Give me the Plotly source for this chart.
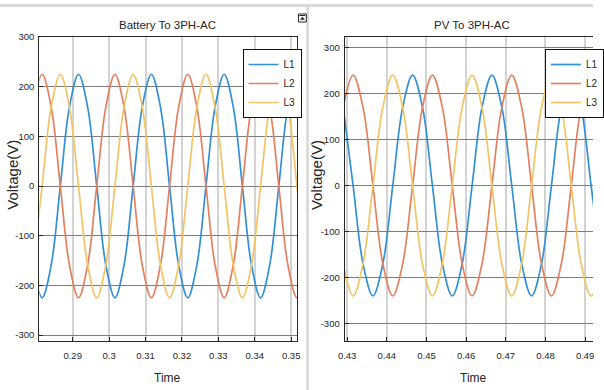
import plotly.graph_objects as go

W, H = 604, 390

# ---------------- data ----------------
t_batt = [0.2791, 0.2816, 0.2841, 0.2866, 0.2891, 0.2916, 0.2941, 0.2966,
          0.2991, 0.3016, 0.3041, 0.3066, 0.3091, 0.3116, 0.3141, 0.3166,
          0.3191, 0.3216, 0.3241, 0.3266, 0.3291, 0.3316, 0.3341, 0.3366,
          0.3391, 0.3416, 0.3441, 0.3466, 0.3491, 0.3516, 0.3541]
batt_L1 = [-159, -225, -159, 0, 159, 225, 159, 0,
           -159, -225, -159, 0, 159, 225, 159, 0,
           -159, -225, -159, 0, 159, 225, 159, 0,
           -159, -225, -159, 0, 159, 225, 159]
batt_L2 = [159, 225, 159, 0, -159, -225, -159, 0,
           159, 225, 159, 0, -159, -225, -159, 0,
           159, 225, 159, 0, -159, -225, -159, 0,
           159, 225, 159, 0, -159, -225, -159]
batt_L3 = [-159, 0, 159, 225, 159, 0, -159, -225,
           -159, 0, 159, 225, 159, 0, -159, -225,
           -159, 0, 159, 225, 159, 0, -159, -225,
           -159, 0, 159, 225, 159, 0, -159]

t_pv = [0.4290, 0.4315, 0.4340, 0.4365, 0.4390, 0.4415, 0.4440, 0.4465,
        0.4490, 0.4515, 0.4540, 0.4565, 0.4590, 0.4615, 0.4640, 0.4665,
        0.4690, 0.4715, 0.4740, 0.4765, 0.4790, 0.4815, 0.4840, 0.4865,
        0.4890, 0.4915, 0.4940]
pv_L1 = [170, 0, -170, -240, -170, 0, 170, 240,
         170, 0, -170, -240, -170, 0, 170, 240,
         170, 0, -170, -240, -170, 0, 170, 240,
         170, 0, -170]
pv_L2 = [170, 240, 170, 0, -170, -240, -170, 0,
         170, 240, 170, 0, -170, -240, -170, 0,
         170, 240, 170, 0, -170, -240, -170, 0,
         170, 240, 170]
pv_L3 = [-170, -240, -170, 0, 170, 240, 170, 0,
         -170, -240, -170, 0, 170, 240, 170, 0,
         -170, -240, -170, 0, 170, 240, 170, 0,
         -170, -240, -170]

series_names = ["L1", "L2", "L3"]
batt_xticks = [0.29, 0.30, 0.31, 0.32, 0.33, 0.34, 0.35]
batt_xtext = ["0.29", "0.3", "0.31", "0.32", "0.33", "0.34", "0.35"]
pv_xticks = [0.43, 0.44, 0.45, 0.46, 0.47, 0.48, 0.49]
pv_xtext = ["0.43", "0.44", "0.45", "0.46", "0.47", "0.48", "0.49"]
yticks = [-300, -200, -100, 0, 100, 200, 300]

# ---------------- styling ----------------
colors = ["#3290d4", "#e4805f", "#f2c463"]
FONT = "Liberation Sans, Arial, sans-serif"
INK = "#262626"


def px(x):
    return x / W


def py(y):
    return 1 - y / H


fig = go.Figure()
for name, ys, c in zip(series_names, [batt_L1, batt_L2, batt_L3], colors):
    fig.add_trace(go.Scatter(x=t_batt, y=ys, name=name, mode="lines",
                             line=dict(color=c, width=1.7, shape="spline", smoothing=1.0),
                             xaxis="x", yaxis="y", legend="legend"))
for name, ys, c in zip(series_names, [pv_L1, pv_L2, pv_L3], colors):
    fig.add_trace(go.Scatter(x=t_pv, y=ys, name=name, mode="lines",
                             line=dict(color=c, width=1.7, shape="spline", smoothing=1.0),
                             xaxis="x2", yaxis="y2", legend="legend2"))

common_x = dict(showgrid=True, gridcolor="#d3d3d3", gridwidth=2, zeroline=False,
                showline=True, linecolor=INK, linewidth=1, mirror=True,
                ticks="inside", ticklen=4, tickcolor=INK, automargin=False,
                tickfont=dict(family=FONT, size=9.5, color=INK), ticklabelstandoff=6)
common_y = dict(showgrid=True, gridcolor="#7d7d7d", gridwidth=1, zeroline=False,
                showline=True, linecolor=INK, linewidth=1,
                ticks="inside", ticklen=4, tickcolor=INK, automargin=False,
                tickvals=yticks, ticktext=[str(v) for v in yticks],
                tickfont=dict(family=FONT, size=9.5, color=INK), ticklabelstandoff=2)

ydom = [py(341), py(37)]
fig.update_layout(
    width=W, height=H, margin=dict(l=0, r=0, t=0, b=0),
    paper_bgcolor="white", plot_bgcolor="white", showlegend=True,
    xaxis=dict(common_x, domain=[px(40), px(303)], range=[0.28082, 0.35173],
               tickvals=batt_xticks, ticktext=batt_xtext, anchor="y"),
    yaxis=dict(common_y, domain=ydom, range=[-312, 300], mirror=True, anchor="x"),
    xaxis2=dict(common_x, domain=[px(351), 1.0], range=[0.42936, 0.49198],
                tickvals=pv_xticks, ticktext=pv_xtext, anchor="y2"),
    yaxis2=dict(common_y, domain=ydom, range=[-338, 323], mirror=False, anchor="x2"),
    legend=dict(x=px(247), y=py(49), xanchor="left", yanchor="top",
                bgcolor="white", bordercolor="#111111", borderwidth=1,
                font=dict(family=FONT, size=10, color=INK), tracegroupgap=0),
    legend2=dict(x=px(555), y=py(49), xanchor="left", yanchor="top",
                 bgcolor="white", bordercolor="#111111", borderwidth=1,
                 font=dict(family=FONT, size=10, color=INK), tracegroupgap=0),
)

ann = [
    ("Battery To 3PH-AC", 171, 25, 11.5, 0),
    ("PV To 3PH-AC", 481, 25, 11.5, 0),
    ("Time", 171, 378, 12, 0),
    ("Time", 482, 378, 12, 0),
    ("Voltage(V)", 13, 175, 15, -90),
    ("Voltage(V)", 323, 175, 15, -90),
]
for text, x, y, size, rot in ann:
    fig.add_annotation(text=text, x=px(x), y=py(y), xref="paper", yref="paper",
                       showarrow=False, xanchor="center", yanchor="middle",
                       textangle=rot, font=dict(family=FONT, size=size, color=INK))

# window decorations: top bar, panel separator, undock icon
fig.add_shape(type="rect", xref="paper", yref="paper", x0=0, x1=1, y0=py(7), y1=py(4),
              fillcolor="#d9d9d9", line=dict(width=0), layer="above")
fig.add_shape(type="rect", xref="paper", yref="paper", x0=px(312), x1=px(314.5), y0=0, y1=py(4),
              fillcolor="#d6d6d6", line=dict(width=0), layer="above")
fig.add_shape(type="rect", xref="paper", yref="paper", x0=px(304), x1=px(312), y0=py(22), y1=py(14),
              fillcolor="white", line=dict(color=INK, width=1), layer="above")
fig.add_shape(type="line", xref="paper", yref="paper", x0=px(305), x1=px(311), y0=py(15.5), y1=py(15.5),
              line=dict(color=INK, width=1), layer="above")
fig.add_shape(type="path", xref="paper", yref="paper",
              path=f"M {px(306)},{py(19.5)} L {px(308)},{py(17)} L {px(310)},{py(19.5)} Z",
              fillcolor=INK, line=dict(color=INK, width=0.5), layer="above")

fig.write_html("out.html", config={"displayModeBar": False},
               post_script="document.body.style.margin='0px';")
